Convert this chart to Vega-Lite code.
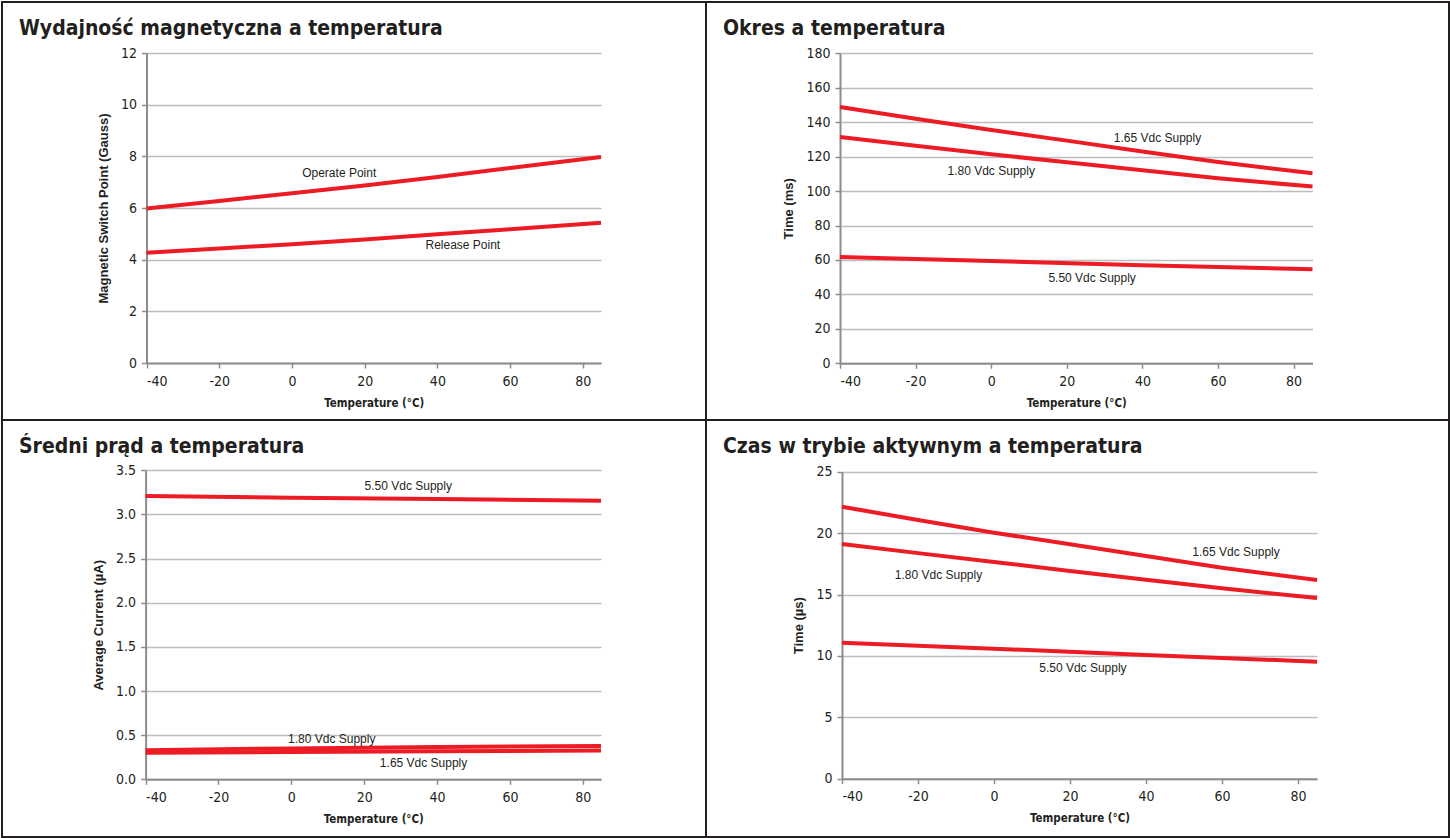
{
  "$schema": "https://vega.github.io/schema/vega-lite/v6.json",
  "padding": 1,
  "background": "white",
  "spacing": 0,
  "columns": 2,
  "align": "each",
  "bounds": "flush",
  "config": {
    "view": {"stroke": "#231F20", "strokeWidth": 2},
    "font": "Liberation Sans",
    "axis": {
      "domainColor": "#8C8C8C", "domainWidth": 2,
      "tickColor": "#8C8C8C", "tickWidth": 1.5, "tickSize": 5,
      "gridColor": "#BDBDBD", "gridWidth": 1.5,
      "labelFont": "DejaVu Sans Condensed, Liberation Sans", "labelFontSize": 14, "labelColor": "#231F20",
      "labelExpr": "'' + datum.value",
      "titleFont": "Liberation Sans", "titleFontSize": 13, "titleFontWeight": "bold", "titleColor": "#231F20"
    },
    "axisX": {"grid": false, "labelPadding": 6, "titlePadding": 9, "titleFont": "DejaVu Sans Condensed, Liberation Sans", "titleFontSize": 11.5},
    "axisY": {"labelPadding": 5, "titlePadding": 10},
    "title": {"anchor": "start", "frame": "group", "offset": -37, "dx": 17, "font": "DejaVu Sans Condensed, Liberation Sans", "fontSize": 21, "fontWeight": "bold", "color": "#231F20"},
    "line": {"color": "#ED1C24", "strokeWidth": 4},
    "text": {"font": "Liberation Sans", "fontSize": 12, "color": "#231F20"}
  },
  "datasets": {
    "magnetic": [
      {"series": "Operate Point", "temp": -40, "value": 5.98},
      {"series": "Operate Point", "temp": -20, "value": 6.27},
      {"series": "Operate Point", "temp": 0, "value": 6.57},
      {"series": "Operate Point", "temp": 20, "value": 6.87},
      {"series": "Operate Point", "temp": 40, "value": 7.2},
      {"series": "Operate Point", "temp": 60, "value": 7.55},
      {"series": "Operate Point", "temp": 85, "value": 7.97},
      {"series": "Release Point", "temp": -40, "value": 4.27},
      {"series": "Release Point", "temp": -20, "value": 4.43},
      {"series": "Release Point", "temp": 0, "value": 4.6},
      {"series": "Release Point", "temp": 20, "value": 4.78},
      {"series": "Release Point", "temp": 40, "value": 4.98},
      {"series": "Release Point", "temp": 60, "value": 5.18},
      {"series": "Release Point", "temp": 85, "value": 5.43}
    ],
    "magneticLabels": [
      {"label": "Operate Point", "temp": 13, "value": 7.36},
      {"label": "Release Point", "temp": 47, "value": 4.57}
    ],
    "period": [
      {"series": "1.65", "temp": -40, "value": 148.8},
      {"series": "1.65", "temp": -20, "value": 142.0},
      {"series": "1.65", "temp": 0, "value": 135.5},
      {"series": "1.65", "temp": 20, "value": 129.3},
      {"series": "1.65", "temp": 40, "value": 123.0},
      {"series": "1.65", "temp": 60, "value": 116.9},
      {"series": "1.65", "temp": 85, "value": 110.3},
      {"series": "1.80", "temp": -40, "value": 131.4},
      {"series": "1.80", "temp": -20, "value": 126.3},
      {"series": "1.80", "temp": 0, "value": 121.4},
      {"series": "1.80", "temp": 20, "value": 116.7},
      {"series": "1.80", "temp": 40, "value": 112.1},
      {"series": "1.80", "temp": 60, "value": 107.4},
      {"series": "1.80", "temp": 85, "value": 102.6},
      {"series": "5.50", "temp": -40, "value": 61.7},
      {"series": "5.50", "temp": 0, "value": 59.4},
      {"series": "5.50", "temp": 40, "value": 56.9},
      {"series": "5.50", "temp": 85, "value": 54.6}
    ],
    "periodLabels": [
      {"label": "1.65 Vdc Supply", "temp": 44, "value": 131},
      {"label": "1.80 Vdc Supply", "temp": 0, "value": 111.7},
      {"label": "5.50 Vdc Supply", "temp": 26.7, "value": 49.7}
    ],
    "current": [
      {"series": "5.50", "temp": -40, "value": 3.21},
      {"series": "5.50", "temp": 0, "value": 3.19},
      {"series": "5.50", "temp": 40, "value": 3.175},
      {"series": "5.50", "temp": 85, "value": 3.155},
      {"series": "1.80", "temp": -40, "value": 0.33},
      {"series": "1.80", "temp": 0, "value": 0.35},
      {"series": "1.80", "temp": 40, "value": 0.365},
      {"series": "1.80", "temp": 85, "value": 0.378},
      {"series": "1.65", "temp": -40, "value": 0.3},
      {"series": "1.65", "temp": 0, "value": 0.31},
      {"series": "1.65", "temp": 40, "value": 0.318},
      {"series": "1.65", "temp": 85, "value": 0.325}
    ],
    "currentLabels": [
      {"label": "5.50 Vdc Supply", "temp": 32.1, "value": 3.32},
      {"label": "1.80 Vdc Supply", "temp": 11.1, "value": 0.46},
      {"label": "1.65 Vdc Supply", "temp": 36.3, "value": 0.19}
    ],
    "active": [
      {"series": "1.65", "temp": -40, "value": 22.15},
      {"series": "1.65", "temp": -20, "value": 21.07},
      {"series": "1.65", "temp": 0, "value": 20.03},
      {"series": "1.65", "temp": 20, "value": 19.09},
      {"series": "1.65", "temp": 40, "value": 18.13},
      {"series": "1.65", "temp": 60, "value": 17.18},
      {"series": "1.65", "temp": 85, "value": 16.18},
      {"series": "1.80", "temp": -40, "value": 19.11},
      {"series": "1.80", "temp": -20, "value": 18.37},
      {"series": "1.80", "temp": 0, "value": 17.65},
      {"series": "1.80", "temp": 20, "value": 16.92},
      {"series": "1.80", "temp": 40, "value": 16.2},
      {"series": "1.80", "temp": 60, "value": 15.5},
      {"series": "1.80", "temp": 85, "value": 14.71},
      {"series": "5.50", "temp": -40, "value": 11.08},
      {"series": "5.50", "temp": 0, "value": 10.59},
      {"series": "5.50", "temp": 40, "value": 10.07},
      {"series": "5.50", "temp": 85, "value": 9.53}
    ],
    "activeLabels": [
      {"label": "1.65 Vdc Supply", "temp": 63.7, "value": 18.5},
      {"label": "1.80 Vdc Supply", "temp": -14.6, "value": 16.6},
      {"label": "5.50 Vdc Supply", "temp": 23.4, "value": 9.0}
    ]
  },
  "concat": [
    {
      "width": 704, "height": 418,
      "title": "Wydajność magnetyczna a temperatura",
      "layer": [
        {
          "data": {"name": "magnetic"},
          "mark": {"type": "line"},
          "encoding": {
            "x": {"field": "temp", "type": "quantitative",
              "scale": {"domain": [-40, 85], "range": [144.5, 599], "nice": false, "zero": false},
              "axis": {"values": [-40, -20, 0, 20, 40, 60, 80], "offset": -57, "title": "Temperature (°C)"}},
            "y": {"field": "value", "type": "quantitative",
              "scale": {"domain": [0, 12], "range": [361, 51], "nice": false},
              "axis": {"values": [0, 2, 4, 6, 8, 10, 12], "offset": -144.5, "title": "Magnetic Switch Point (Gauss)"}},
            "detail": {"field": "series"}
          }
        },
        {
          "data": {"name": "magneticLabels"},
          "mark": {"type": "text"},
          "encoding": {
            "x": {"field": "temp", "type": "quantitative"},
            "y": {"field": "value", "type": "quantitative"},
            "text": {"field": "label"}
          }
        }
      ]
    },
    {
      "width": 743, "height": 418,
      "title": "Okres a temperatura",
      "layer": [
        {
          "data": {"name": "period"},
          "mark": {"type": "line"},
          "encoding": {
            "x": {"field": "temp", "type": "quantitative",
              "scale": {"domain": [-40, 85], "range": [134, 606.5], "nice": false, "zero": false},
              "axis": {"values": [-40, -20, 0, 20, 40, 60, 80], "offset": -56.7, "title": "Temperature (°C)"}},
            "y": {"field": "value", "type": "quantitative",
              "scale": {"domain": [0, 180], "range": [361.3, 51.3], "nice": false},
              "axis": {"values": [0, 20, 40, 60, 80, 100, 120, 140, 160, 180], "offset": -134, "title": "Time (ms)"}},
            "detail": {"field": "series"}
          }
        },
        {
          "data": {"name": "periodLabels"},
          "mark": {"type": "text"},
          "encoding": {
            "x": {"field": "temp", "type": "quantitative"},
            "y": {"field": "value", "type": "quantitative"},
            "text": {"field": "label"}
          }
        }
      ]
    },
    {
      "width": 704, "height": 417,
      "title": "Średni prąd a temperatura",
      "layer": [
        {
          "data": {"name": "current"},
          "mark": {"type": "line"},
          "encoding": {
            "x": {"field": "temp", "type": "quantitative",
              "scale": {"domain": [-40, 85], "range": [143.6, 599], "nice": false, "zero": false},
              "axis": {"values": [-40, -20, 0, 20, 40, 60, 80], "offset": -57.7, "title": "Temperature (°C)"}},
            "y": {"field": "value", "type": "quantitative",
              "scale": {"domain": [0, 3.5], "range": [359.3, 50.3], "nice": false},
              "axis": {"values": [0, 0.5, 1, 1.5, 2, 2.5, 3, 3.5], "labelExpr": "format(datum.value, '.1f')", "offset": -143.6, "title": "Average Current  (µA)"}},
            "detail": {"field": "series"}
          }
        },
        {
          "data": {"name": "currentLabels"},
          "mark": {"type": "text"},
          "encoding": {
            "x": {"field": "temp", "type": "quantitative"},
            "y": {"field": "value", "type": "quantitative"},
            "text": {"field": "label"}
          }
        }
      ]
    },
    {
      "width": 743, "height": 417,
      "title": "Czas w trybie aktywnym a temperatura",
      "layer": [
        {
          "data": {"name": "active"},
          "mark": {"type": "line"},
          "encoding": {
            "x": {"field": "temp", "type": "quantitative",
              "scale": {"domain": [-40, 85], "range": [136, 611], "nice": false, "zero": false},
              "axis": {"values": [-40, -20, 0, 20, 40, 60, 80], "offset": -58.3, "title": "Temperature (°C)"}},
            "y": {"field": "value", "type": "quantitative",
              "scale": {"domain": [0, 25], "range": [358.7, 51.7], "nice": false},
              "axis": {"values": [0, 5, 10, 15, 20, 25], "offset": -136, "title": "Time (µs)"}},
            "detail": {"field": "series"}
          }
        },
        {
          "data": {"name": "activeLabels"},
          "mark": {"type": "text"},
          "encoding": {
            "x": {"field": "temp", "type": "quantitative"},
            "y": {"field": "value", "type": "quantitative"},
            "text": {"field": "label"}
          }
        }
      ]
    }
  ]
}
